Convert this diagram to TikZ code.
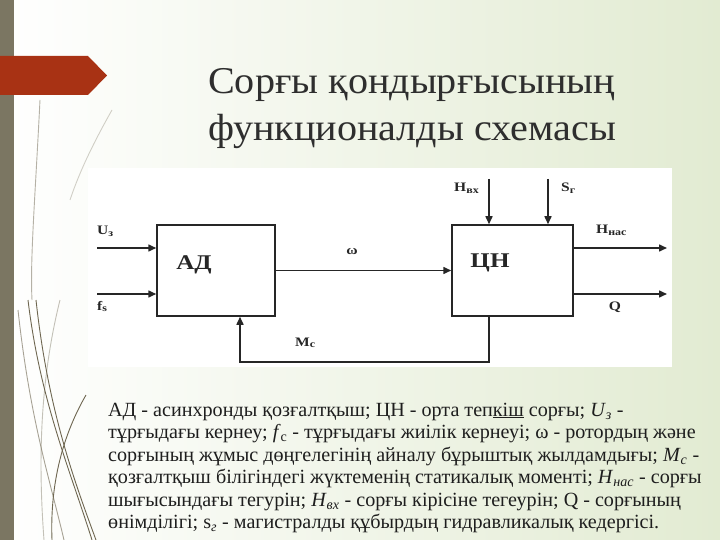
\documentclass[tikz,border=0pt]{standalone}
\usepackage{fontspec}
\setmainfont{Liberation Serif}
\newfontfamily\ttlfont[FakeStretch=1.06]{Liberation Serif}
\newfontfamily\dgfont[FakeStretch=1.2]{Liberation Serif}
\usetikzlibrary{arrows.meta}
\definecolor{barcol}{HTML}{7B7662}
\definecolor{tagred}{HTML}{A83214}
\definecolor{bgreen}{HTML}{E2EBD2}
\definecolor{txt}{HTML}{1E1E1E}
\definecolor{ttl}{HTML}{2E2E2E}
\definecolor{curve}{HTML}{6E6650}
\tikzset{
  blk/.style={draw=black!85, line width=1.5bp, fill=white, inner sep=0pt},
  arr/.style={draw=black!85, line width=1.5bp, -{Triangle[length=8bp,width=7bp]}},
  dlab/.style={font=\dgfont\fontsize{13}{13}\selectfont\bfseries, text=black!85, inner sep=0pt},
  blab/.style={font=\dgfont\fontsize{21}{21}\selectfont\bfseries, text=black!85, inner sep=0pt},
  desc/.style={font=\fontsize{20.2}{20}\selectfont, text=txt, anchor=base west, inner sep=0pt},
  ttlstyle/.style={font=\ttlfont\fontsize{38}{38}\selectfont, text=ttl, anchor=base west, inner sep=0pt},
  deco/.style={draw=curve, line width=0.9bp},
}
\newcommand{\sbs}[1]{\raisebox{-1.5bp}{\fontsize{10}{10}\selectfont #1}}
\begin{document}
\begin{tikzpicture}[x=1bp,y=-1bp]
\useasboundingbox (0,0) rectangle (720,540);
% background
\shade[left color=white, right color=bgreen] (0,0) rectangle (720,540);
\fill[barcol] (0,0) rectangle (14,540);
% decorative curves
\draw[deco, opacity=0.5] (40,100) .. controls (35,200) and (30,260) .. (32,300);
\draw[deco, opacity=0.3] (112,110) .. controls (95,140) and (80,170) .. (70,200);
\draw[deco] (28,300) .. controls (40,400) and (70,470) .. (92,540);
\draw[deco] (36,300) .. controls (48,410) and (74,480) .. (96,540);
\draw[deco] (86,395) .. controls (60,440) and (50,490) .. (52,540);
\draw[deco, opacity=0.6] (18,310) .. controls (30,420) and (50,480) .. (64,540);
\draw[deco, opacity=0.4] (60,300) .. controls (40,380) and (38,460) .. (44,540);
% red tag
\fill[tagred] (0,56) -- (88,56) -- (107,75.5) -- (88,95) -- (0,95) -- cycle;
% title
\node[ttlstyle] (t1) at (208,94) {Сорғы қондырғысының};
\node[ttlstyle] (t2) at (208,141) {функционалды схемасы};
% white panel
\fill[white] (88,168) rectangle (672,367);
% blocks
\node[blk, minimum width=118bp, minimum height=91bp] (ad) at (216,270.5) {};
\node[blk, minimum width=121bp, minimum height=91bp] (cn) at (512.5,270.5) {};
\node[blab] (adl) at (194,265) {АД};
\node[blab] (cnl) at (490,263) {ЦН};
% free ends
\coordinate (us) at (97,248);
\coordinate (fs) at (97,294);
\coordinate (hin) at (489,179);
\coordinate (sg) at (548,179);
\coordinate (hout) at (667,248);
\coordinate (qout) at (667,294);
\coordinate (fb1) at (489,362);
\coordinate (fb2) at (240,362);
% connectors
\draw[arr] (us) -- (us -| ad.west);
\draw[arr] (fs) -- (fs -| ad.west);
\draw[arr] (ad.east) -- (cn.west);
\draw[arr] (hin) -- (hin |- cn.north);
\draw[arr] (sg) -- (sg |- cn.north);
\draw[arr] (hout -| cn.east) -- (hout);
\draw[arr] (qout -| cn.east) -- (qout);
\draw[arr] (fb1 |- cn.south) -- (fb1) -- (fb2) -- (fb2 |- ad.south);
% labels
\node[dlab, anchor=base west] (lus) at (97,235) {U\sbs{з}};
\node[dlab, anchor=base west] (lfs) at (97,310) {f\sbs{s}};
\node[dlab] (lw) at (352,252) {ω};
\node[dlab, anchor=base west] (lmc) at (295,346) {M\sbs{с}};
\node[dlab, anchor=base west] (lhin) at (454,192) {H\sbs{вх}};
\node[dlab, anchor=base west] (lsg) at (561,192) {S\sbs{г}};
\node[dlab, anchor=base west] (lhn) at (596,234) {H\sbs{нас}};
\node[dlab] (lq) at (615,307) {Q};
% description
\node[desc] (d1) at (108,416) {АД - асинхронды қозғалтқыш; ЦН - орта теп\underline{кіш} сорғы; \textit{U}\textsubscript{\textit{з}} -};
\node[desc] (d2) at (108,438.5) {тұрғыдағы кернеу; \textit{f}\textsubscript{c} - тұрғыдағы жиілік кернеуі; ω - ротордың және};
\node[desc] (d3) at (108,461) {сорғының жұмыс дөңгелегінің айналу бұрыштық жылдамдығы; \textit{M}\textsubscript{\textit{c}} -};
\node[desc] (d4) at (108,483.5) {қозғалтқыш білігіндегі жүктеменің статикалық моменті; \textit{H}\textsubscript{\textit{нас}} - сорғы};
\node[desc] (d5) at (108,506) {шығысындағы тегурін; \textit{H}\textsubscript{\textit{вх}} - сорғы кірісіне тегеурін; Q - сорғының};
\node[desc] (d6) at (108,528.5) {өнімділігі; s\textsubscript{\textit{г}} - магистралды құбырдың гидравликалық кедергісі.};
\end{tikzpicture}
\end{document}
